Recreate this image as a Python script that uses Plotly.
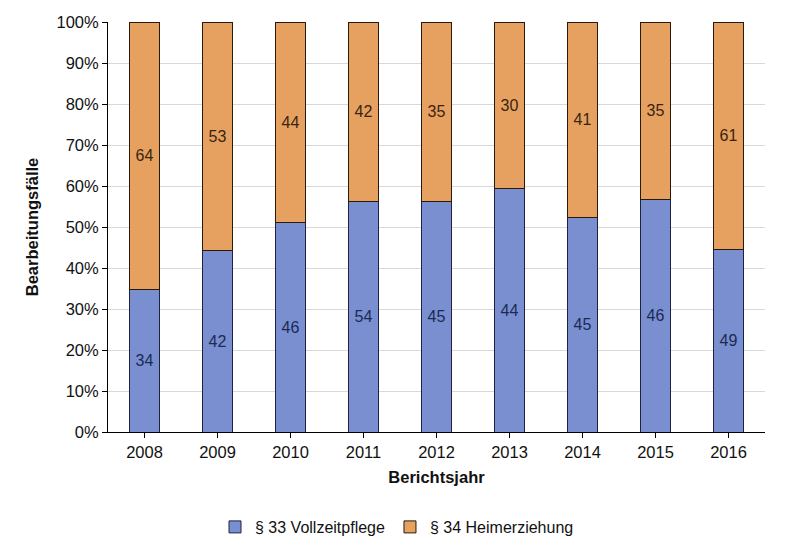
import plotly.graph_objects as go

years = ["2008", "2009", "2010", "2011", "2012", "2013", "2014", "2015", "2016"]
vollzeitpflege = [34, 42, 46, 54, 45, 44, 45, 46, 49]
heimerziehung = [64, 53, 44, 42, 35, 30, 41, 35, 61]
y_ticks = [0, 10, 20, 30, 40, 50, 60, 70, 80, 90, 100]
y_tick_labels = [f"{v}%" for v in y_ticks]

font = "Liberation Sans, Arial, sans-serif"

fig = go.Figure()
fig.add_trace(go.Bar(
    x=years, y=vollzeitpflege, name="§ 33 Vollzeitpflege",
    marker=dict(color="#7a8fd0", line=dict(color="#1c2340", width=1)),
    text=vollzeitpflege, textposition="inside", insidetextanchor="middle",
    textfont=dict(color="#1b2a55", size=16, family=font),
))
fig.add_trace(go.Bar(
    x=years, y=heimerziehung, name="§ 34 Heimerziehung",
    marker=dict(color="#e6a160", line=dict(color="#2a1a0c", width=1)),
    text=heimerziehung, textposition="inside", insidetextanchor="middle",
    textfont=dict(color="#3a2410", size=16, family=font),
))

fig.update_layout(
    barmode="stack", barnorm="percent", bargap=0.6,
    width=778, height=548,
    margin=dict(l=100, r=21, t=14, b=124, autoexpand=False),
    paper_bgcolor="white", plot_bgcolor="white",
    font=dict(family=font, size=16, color="#111"),
    showlegend=True,
    legend=dict(orientation="h", x=0.5, xanchor="center", xref="container",
                y=29 / 548, yanchor="middle", yref="container",
                font=dict(size=16), itemwidth=30, traceorder="normal"),
    uniformtext=dict(mode="show", minsize=10),
)
fig.update_xaxes(
    automargin=False,
    showline=True, linecolor="black", linewidth=1,
    ticks="outside", ticklen=5, tickcolor="black",
    title=dict(text="<b>Berichtsjahr</b>", font=dict(size=16.5), standoff=11),
    tickfont=dict(size=16.5),
)
fig.update_yaxes(
    automargin=False,
    range=[0, 100], tickvals=y_ticks, ticktext=y_tick_labels,
    showline=True, linecolor="black", linewidth=1,
    ticks="outside", ticklen=5, tickcolor="black",
    showgrid=True, gridcolor="#d9d9d9", gridwidth=1,
    title=dict(text="<b>Bearbeitungsfälle</b>", font=dict(size=16.5), standoff=13),
    tickfont=dict(size=16.5),
)

fig.write_html("out.html")
